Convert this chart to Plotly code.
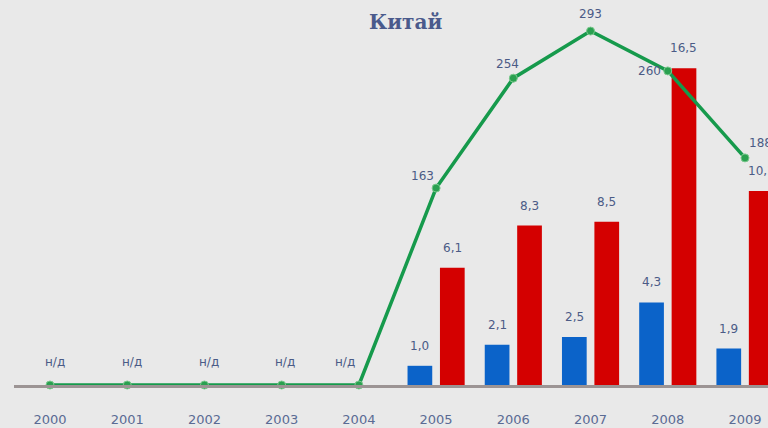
import plotly.graph_objects as go

years = [2000, 2001, 2002, 2003, 2004, 2005, 2006, 2007, 2008, 2009]
line_values = [0, 0, 0, 0, 0, 163, 254, 293, 260, 188]
line_labels = ["н/д", "н/д", "н/д", "н/д", "н/д", "163", "254", "293", "260", "188"]
bar_years = [2005, 2006, 2007, 2008, 2009]
blue_values = [1.0, 2.1, 2.5, 4.3, 1.9]
red_values = [6.1, 8.3, 8.5, 16.5, 10.1]
title_text = "Китай"

def fmt(v):
    return f"{v:.1f}".replace(".", ",")

label_color = "#4b5b86"
font_family = "DejaVu Sans"
blue_off, red_off, bar_w = -0.37, 0.05, 0.32

fig = go.Figure()
fig.add_trace(go.Bar(
    x=bar_years, y=blue_values, width=bar_w, offset=blue_off,
    marker=dict(color="#0b63c9", line=dict(width=0)), showlegend=False,
))
fig.add_trace(go.Bar(
    x=bar_years, y=red_values, width=bar_w, offset=red_off,
    marker=dict(color="#d40000", line=dict(width=0)), showlegend=False,
))
fig.add_trace(go.Scatter(
    x=years, y=line_values, yaxis="y2", mode="lines+markers",
    line=dict(color="#169a4c", width=3.5),
    marker=dict(color="#2aa050", size=8, symbol="circle", line=dict(color="#7cc98e", width=1)),
    cliponaxis=False, showlegend=False,
))

annotations = []
lab_font = dict(color=label_color, size=12, family=font_family)
for x, v in zip(bar_years, blue_values):
    annotations.append(dict(x=x + blue_off + bar_w / 2, y=v, xref="x", yref="y", text=fmt(v),
                            showarrow=False, yshift=20, font=lab_font))
for x, v in zip(bar_years, red_values):
    annotations.append(dict(x=x + red_off + bar_w / 2, y=v, xref="x", yref="y", text=fmt(v),
                            showarrow=False, yshift=20, font=lab_font))
shifts = [(5, 23), (5, 23), (5, 23), (3, 23), (-14, 23), (-14, 12), (-6, 14), (0, 17), (-18, 0), (16, 15)]
for x, v, t, (dx, dy) in zip(years, line_values, line_labels, shifts):
    annotations.append(dict(x=x, y=v, xref="x", yref="y2", text=t, showarrow=False,
                            xshift=dx, yshift=dy, font=lab_font))
annotations.append(dict(text=f"<b>{title_text}</b>", xref="paper", yref="paper",
                        x=(405 - 14) / 754, y=1 - 22 / 385, xanchor="center", yanchor="middle",
                        showarrow=False,
                        font=dict(size=20, color="#4a5a8c", family="DejaVu Serif")))

fig.update_layout(
    width=768, height=428,
    margin=dict(l=14, r=0, t=0, b=43),
    paper_bgcolor="#e9e9e9", plot_bgcolor="#e9e9e9",
    barmode="overlay",
    xaxis=dict(range=[1999.534, 2009.298], tickmode="array", tickvals=years,
               ticktext=[str(y) for y in years], showgrid=False, zeroline=False,
               showline=True, linecolor="#9c9494", linewidth=3,
               ticks="outside", ticklen=20, tickcolor="rgba(0,0,0,0)",
               tickfont=dict(color="#5a6b94", size=13, family=font_family)),
    yaxis=dict(range=[0, 20.05], visible=False, showgrid=False, zeroline=False),
    yaxis2=dict(range=[0, 318.7], overlaying="y", visible=False, showgrid=False, zeroline=False),
    annotations=annotations,
)
fig.write_html("out.html", config={"displayModeBar": False},
               post_script="document.body.style.margin='0';document.body.style.overflow='hidden';")
